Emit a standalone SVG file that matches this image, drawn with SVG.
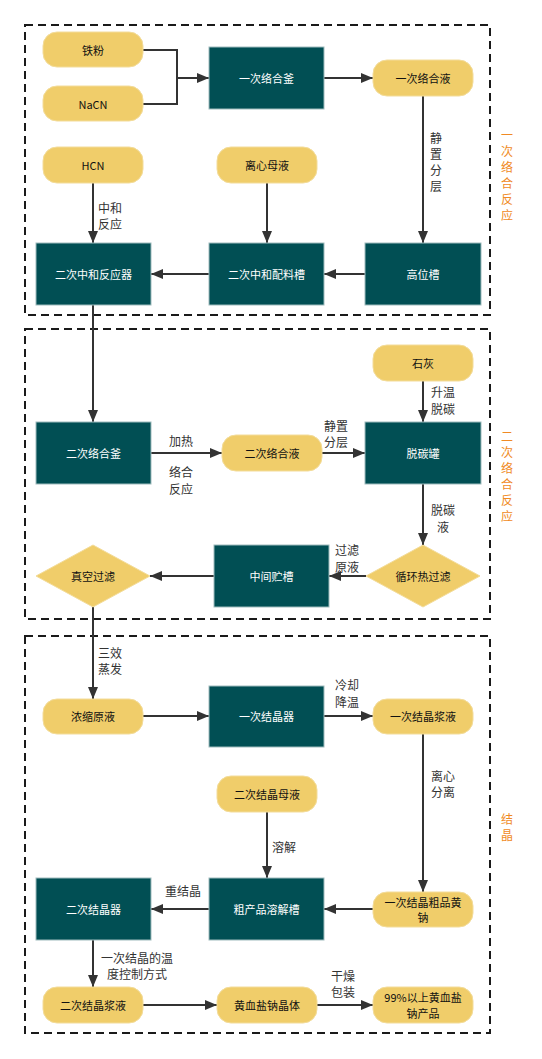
<svg xmlns="http://www.w3.org/2000/svg" width="542" height="1059" viewBox="0 0 542 1059">
<style>
.frame{fill:none;stroke:#1a1a1a;stroke-width:2;stroke-dasharray:8 5}
.t{fill:#014f54;stroke:#9fbcbd;stroke-width:1}
.y{fill:#f0cd6a;stroke:#f3dc9a;stroke-width:1}
.tt{font-family:"Noto Sans CJK SC","Liberation Sans",sans-serif;font-size:11px;fill:#ffffff;text-anchor:middle;dominant-baseline:central}
.yt{font-family:"Noto Sans CJK SC","Liberation Sans",sans-serif;font-size:11px;fill:#111111;text-anchor:middle;dominant-baseline:central}
.lb{font-family:"Noto Sans CJK SC","Liberation Sans",sans-serif;font-size:12px;fill:#333333;text-anchor:middle;dominant-baseline:central}
.og{font-family:"Noto Sans CJK SC","Liberation Sans",sans-serif;font-size:12px;fill:#f08a24;text-anchor:middle;dominant-baseline:central}
.c{fill:none;stroke:#333333;stroke-width:2}
</style>
<defs>
<marker id="ah" markerUnits="userSpaceOnUse" markerWidth="14" markerHeight="12" refX="12" refY="5" orient="auto">
<path d="M0,0 L12,5 L0,10 Z" fill="#333333"/>
</marker>
</defs>
<rect width="542" height="1059" fill="#ffffff"/>
<g id="frames">
<rect class="frame" x="25" y="25" width="465" height="290"/>
<rect class="frame" x="25" y="329" width="465" height="290"/>
<rect class="frame" x="25" y="636" width="465" height="397"/>
<g class="og">
<text x="507" y="134">一</text><text x="507" y="150">次</text><text x="507" y="166">络</text><text x="507" y="182">合</text><text x="507" y="198">反</text><text x="507" y="214">应</text>
<text x="507" y="435">二</text><text x="507" y="451">次</text><text x="507" y="467">络</text><text x="507" y="483">合</text><text x="507" y="499">反</text><text x="507" y="515">应</text>
<text x="507" y="818">结</text><text x="507" y="834">晶</text>
</g>
</g>
<g id="connectors">
<path class="c" d="M143,50 H177 V78 H209" marker-end="url(#ah)"/>
<path class="c" d="M143,104 H177 V78"/>
<path class="c" d="M324,78 H373" marker-end="url(#ah)"/>
<path class="c" d="M423,96 V243" marker-end="url(#ah)"/>
<path class="c" d="M365,274 H324" marker-end="url(#ah)"/>
<path class="c" d="M267,183 V243" marker-end="url(#ah)"/>
<path class="c" d="M209,274 H151" marker-end="url(#ah)"/>
<path class="c" d="M93,183 V243" marker-end="url(#ah)"/>
<path class="c" d="M93,305 V422" marker-end="url(#ah)"/>
<path class="c" d="M151,453 H222" marker-end="url(#ah)"/>
<path class="c" d="M322,453 H365" marker-end="url(#ah)"/>
<path class="c" d="M423,381 V422" marker-end="url(#ah)"/>
<path class="c" d="M423,484 V545" marker-end="url(#ah)"/>
<path class="c" d="M366,576 H329" marker-end="url(#ah)"/>
<path class="c" d="M214,576 H150" marker-end="url(#ah)"/>
<path class="c" d="M93,607 V699" marker-end="url(#ah)"/>
<path class="c" d="M143,716 H209" marker-end="url(#ah)"/>
<path class="c" d="M324,716 H373" marker-end="url(#ah)"/>
<path class="c" d="M423,734 V892" marker-end="url(#ah)"/>
<path class="c" d="M373,909 H324" marker-end="url(#ah)"/>
<path class="c" d="M267,812 V878" marker-end="url(#ah)"/>
<path class="c" d="M209,909 H151" marker-end="url(#ah)"/>
<path class="c" d="M93,940 V987" marker-end="url(#ah)"/>
<path class="c" d="M143,1005 H217" marker-end="url(#ah)"/>
<path class="c" d="M317,1005 H373" marker-end="url(#ah)"/>
<g class="lb">
<text x="110" y="207">中和</text><text x="110" y="223">反应</text>
<text x="436" y="137">静</text><text x="436" y="153">置</text><text x="436" y="169">分</text><text x="436" y="185">层</text>
<text x="181" y="440">加热</text>
<text x="181" y="471">络合</text><text x="181" y="488">反应</text>
<text x="336" y="425">静置</text><text x="336" y="441">分层</text>
<text x="443" y="391">升温</text><text x="443" y="408">脱碳</text>
<text x="443" y="509">脱碳</text><text x="443" y="526">液</text>
<text x="347" y="549">过滤</text><text x="347" y="566">原液</text>
<text x="110" y="652">三效</text><text x="110" y="668">蒸发</text>
<text x="347" y="684">冷却</text><text x="347" y="701">降温</text>
<text x="443" y="775">离心</text><text x="443" y="791">分离</text>
<text x="284" y="846">溶解</text>
<text x="183" y="890">重结晶</text>
<text x="137" y="957">一次结晶的温</text><text x="137" y="973">度控制方式</text>
<text x="343" y="975">干燥</text><text x="343" y="991">包装</text>
</g>
</g>
<g id="n_tiefen"><rect class="y" x="43" y="32" width="100" height="35" rx="14"/><text class="yt" x="93" y="50">铁粉</text></g>
<g id="n_nacn"><rect class="y" x="43" y="86" width="100" height="35" rx="14"/><text class="yt" x="93" y="104">NaCN</text></g>
<g id="n_fu1"><rect class="t" x="209" y="47" width="115" height="62"/><text class="tt" x="266.5" y="78">一次络合釜</text></g>
<g id="n_ye1"><rect class="y" x="373" y="60" width="100" height="36" rx="14"/><text class="yt" x="423" y="78">一次络合液</text></g>
<g id="n_hcn"><rect class="y" x="43" y="147" width="100" height="36" rx="14"/><text class="yt" x="93" y="165">HCN</text></g>
<g id="n_mu"><rect class="y" x="217" y="147" width="100" height="36" rx="14"/><text class="yt" x="267" y="165">离心母液</text></g>
<g id="n_fyq"><rect class="t" x="36" y="243" width="115" height="62"/><text class="tt" x="93.5" y="274">二次中和反应器</text></g>
<g id="n_plc"><rect class="t" x="209" y="243" width="115" height="62"/><text class="tt" x="266.5" y="274">二次中和配料槽</text></g>
<g id="n_gwc"><rect class="t" x="365" y="243" width="116" height="62"/><text class="tt" x="423" y="274">高位槽</text></g>
<g id="n_fu2"><rect class="t" x="36" y="422" width="115" height="62"/><text class="tt" x="93.5" y="453">二次络合釜</text></g>
<g id="n_ye2"><rect class="y" x="222" y="435" width="100" height="36" rx="14"/><text class="yt" x="272" y="453">二次络合液</text></g>
<g id="n_tt"><rect class="t" x="365" y="422" width="116" height="62"/><text class="tt" x="423" y="453">脱碳罐</text></g>
<g id="n_sh"><rect class="y" x="373" y="345" width="100" height="36" rx="14"/><text class="yt" x="423" y="363">石灰</text></g>
<g id="n_zjzc"><rect class="t" x="214" y="545" width="115" height="62"/><text class="tt" x="271.5" y="576">中间贮槽</text></g>
<g id="n_zkgl"><path d="M93,545 L150,576 L93,607 L36,576 Z" fill="#f0cd6a" stroke="#f3dc9a"/><text class="yt" x="93" y="576">真空过滤</text></g>
<g id="n_xhrgl"><path d="M423,545 L480,576 L423,607 L366,576 Z" fill="#f0cd6a" stroke="#f3dc9a"/><text class="yt" x="423" y="576">循环热过滤</text></g>
<g id="n_nsyy"><rect class="y" x="43" y="699" width="100" height="35" rx="14"/><text class="yt" x="93" y="716">浓缩原液</text></g>
<g id="n_jjq1"><rect class="t" x="209" y="686" width="115" height="61"/><text class="tt" x="266.5" y="716">一次结晶器</text></g>
<g id="n_jy1"><rect class="y" x="373" y="699" width="100" height="35" rx="14"/><text class="yt" x="423" y="716">一次结晶浆液</text></g>
<g id="n_my2"><rect class="y" x="217" y="776" width="100" height="36" rx="14"/><text class="yt" x="267" y="794">二次结晶母液</text></g>
<g id="n_rjc"><rect class="t" x="209" y="878" width="115" height="62"/><text class="tt" x="266.5" y="909">粗产品溶解槽</text></g>
<g id="n_cp"><rect class="y" x="373" y="892" width="100" height="35" rx="14"/><text class="yt" x="423" y="902">一次结晶粗品黄</text><text class="yt" x="423" y="917">钠</text></g>
<g id="n_jjq2"><rect class="t" x="36" y="878" width="115" height="62"/><text class="tt" x="93.5" y="909">二次结晶器</text></g>
<g id="n_jy2"><rect class="y" x="43" y="987" width="100" height="36" rx="14"/><text class="yt" x="93" y="1005">二次结晶浆液</text></g>
<g id="n_jt"><rect class="y" x="217" y="987" width="100" height="36" rx="14"/><text class="yt" x="267" y="1005">黄血盐钠晶体</text></g>
<g id="n_cp99"><rect class="y" x="373" y="987" width="100" height="36" rx="14"/><text class="yt" x="423" y="997">99%以上黄血盐</text><text class="yt" x="423" y="1013">钠产品</text></g>
</svg>
